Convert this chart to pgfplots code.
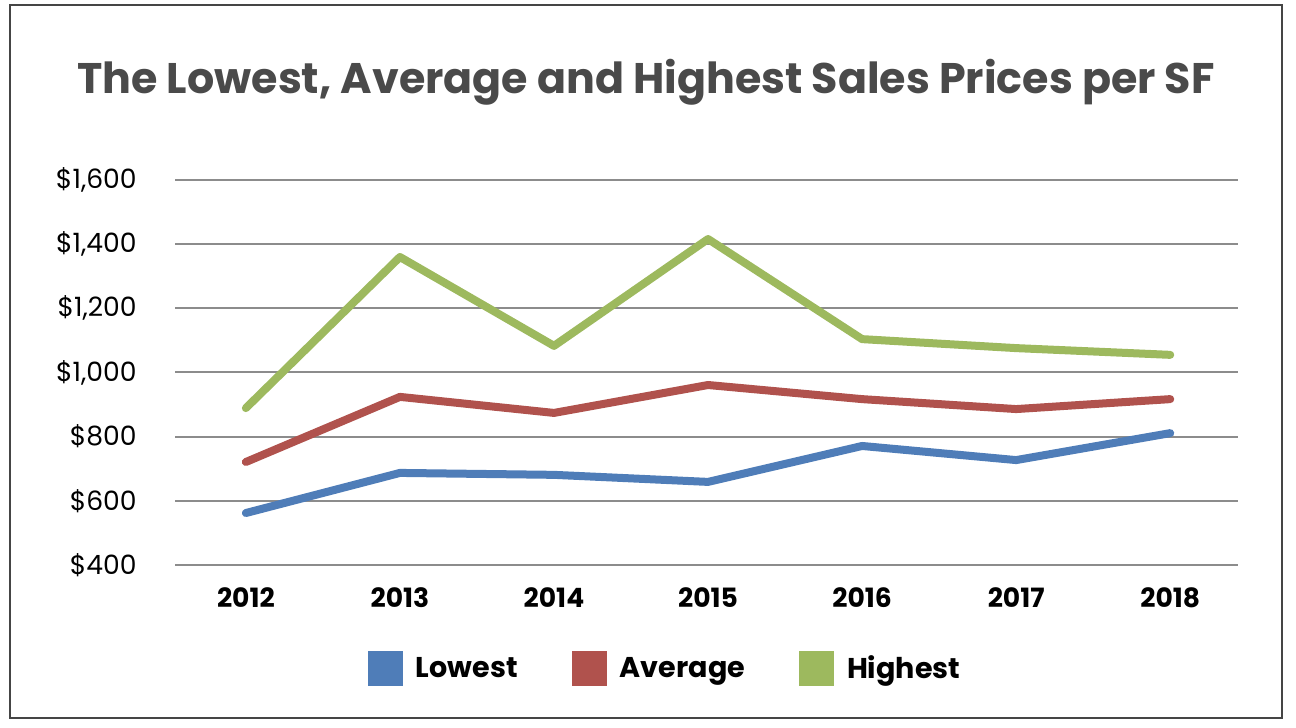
\documentclass[border=0pt]{standalone}
\usepackage{pgfplots}
\pgfplotsset{compat=1.18}
\usepackage{fontspec}
\setmainfont{Poppins}
\definecolor{cLow}{HTML}{4F7DB8}
\definecolor{cAvg}{HTML}{B0524D}
\definecolor{cHigh}{HTML}{9DB95E}
\definecolor{cGrid}{HTML}{8C8C8C}
\definecolor{cTitle}{HTML}{4A4A4A}
\definecolor{cFrame}{HTML}{454545}
\begin{document}
\begin{tikzpicture}
\path[use as bounding box] (0,0) rectangle (648bp,364bp);
\draw[cFrame, line width=1.1bp] (5bp,5bp) rectangle (641bp,361.3bp);
\node[text=cTitle, font=\fontsize{21.4bp}{25bp}\selectfont\bfseries] at (323bp,323bp) {The Lowest, Average and Highest Sales Prices per SF};
\begin{axis}[
  at={(87.5bp,81.5bp)}, anchor=south west,
  scale only axis, width=531.5bp, height=192.5bp,
  xmin=-0.46, xmax=6.44, ymin=400, ymax=1600,
  axis line style={draw=none},
  major tick length=0pt,
  xtick={0,...,6},
  xticklabels={2012,2013,2014,2015,2016,2017,2018},
  ytick={400,600,...,1600},
  yticklabels={{\$400},{\$600},{\$800},{\$1,000},{\$1,200},{\$1,400},{\$1,600}},
  ymajorgrids, grid style={cGrid, line width=1bp},
  yticklabel style={inner sep=0pt, anchor=east, xshift=-19bp, font=\fontsize{13.3bp}{16bp}\selectfont},
  xticklabel style={inner sep=0pt, anchor=north, yshift=-11bp, font=\fontsize{13.3bp}{16bp}\selectfont\bfseries},
  legend columns=-1,
  legend style={draw=none, at={(0.462,-0.27)}, anchor=center, font=\fontsize{14.3bp}{17bp}\selectfont\bfseries,
    /tikz/every even column/.append style={column sep=25bp}},
  legend image code/.code={\fill[#1, draw=none] (0bp,-8.75bp) rectangle (17.5bp,8.75bp);},
  every axis plot/.append style={line width=4bp, line cap=round, line join=round},
]
\addplot[cLow] coordinates {(0,562) (1,687) (2,681) (3,659) (4,771) (5,727) (6,811)};
\addlegendentry{\hspace{4.5bp}Lowest}
\addplot[cAvg] coordinates {(0,721) (1,924) (2,874) (3,961) (4,917) (5,886) (6,917)};
\addlegendentry{\hspace{4.5bp}Average}
\addplot[cHigh] coordinates {(0,889) (1,1360) (2,1083) (3,1416) (4,1104) (5,1076) (6,1055)};
\addlegendentry{\hspace{4.5bp}Highest}
\end{axis}
\end{tikzpicture}
\end{document}
